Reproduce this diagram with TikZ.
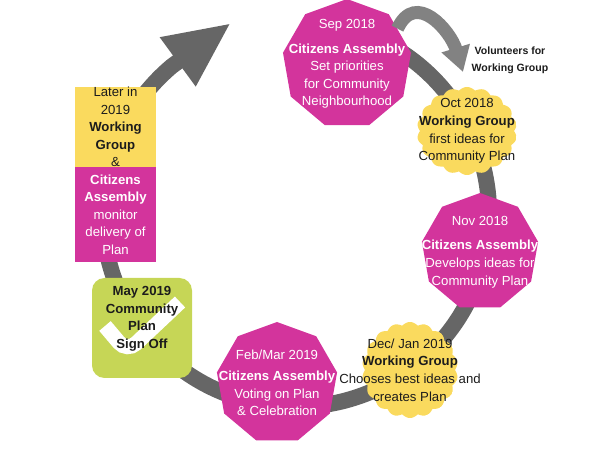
\documentclass[tikz,border=0pt]{standalone}
\usepackage{fontspec}
\setsansfont{Liberation Sans}
\usetikzlibrary{arrows.meta,shapes.geometric}

\definecolor{camagenta}{RGB}{211,52,156}
\definecolor{wgyellow}{RGB}{250,218,94}
\definecolor{signgreen}{RGB}{198,214,86}
\definecolor{ringgrey}{RGB}{102,102,102}
\definecolor{volgrey}{RGB}{130,130,130}
\definecolor{darkink}{RGB}{28,28,28}

\begin{document}
\begin{tikzpicture}[
    assembly/.style={regular polygon,regular polygon sides=9,fill=camagenta,
                     inner sep=0pt,minimum size=#1},
    workgroup/.style 2 args={circle,inner sep=0pt,minimum size={2*#1cm},
                      path picture={\fill[wgyellow,shift={(path picture bounding box.center)}]
                        plot[domain=0:360,samples=325] (\x:{#1-0.06+0.06*abs(sin(9*\x))} and {#2-0.06+0.06*abs(sin(9*\x))});}},
    steptext/.style={align=center,font=\sffamily\fontsize{7.5}{10}\selectfont},
    later/.style={rectangle,inner sep=0pt,minimum width=1.62cm,steptext}
]
\useasboundingbox (0,0) rectangle (12,9);

% the big cycle
\coordinate (ringstart) at (6.92,8.45);
\coordinate (ringtip)   at (4.62,8.54);
\draw[line width=0.32cm,ringgrey,-{Triangle[length=1.32cm,width=1.12cm]}]
    (ringstart) arc[start angle=75,end angle=-230,radius=3.86] -- (ringtip);

\begin{scope}[every label/.style={steptext,text=white}]
    \node[assembly=2.6cm,label={center:{Sep 2018\\[4pt]\textbf{Citizens Assembly}\\Set priorities\\for Community\\Neighbourhood}}] (sep) at (6.94,7.72) {};
    \node[assembly=2.36cm,label={center:{Nov 2018\\[4pt]\textbf{Citizens Assembly}\\Develops ideas for\\Community Plan}}] (nov) at (9.60,3.96) {};
    \node[assembly=2.44cm,label={center:{Feb/Mar 2019\\[2pt]\textbf{Citizens Assembly}\\Voting on Plan\\\& Celebration}}] (feb) at (5.54,1.34) {};
\end{scope}

\begin{scope}[every label/.style={steptext,text=darkink}]
    \node[workgroup={1.0}{0.88},label={center:{Oct 2018\\\textbf{Working Group}\\first ideas for\\Community Plan}}] (oct) at (9.34,6.38) {};
    \node[workgroup={0.96}{0.96},label={center:{Dec/ Jan 2019\\\textbf{Working Group}\\Chooses best ideas and\\creates Plan}}] (dec) at (8.20,1.60) {};
    \node[rectangle,rounded corners=0.25cm,fill=signgreen,minimum size=2cm,
          path picture={\draw[white,line width=0.3cm] ([shift={(-0.74,0.04)}]path picture bounding box.center) -- ++(0.44,-0.52) -- ++(1.06,1.0);},
          label={[yshift=0.18cm,font=\sffamily\bfseries\fontsize{7.5}{10}\selectfont]center:{May 2019\\Community\\Plan\\Sign Off}}] (may) at (2.84,2.44) {};
\end{scope}

\node[later,fill=camagenta,minimum height=1.9cm,text=white] (laterca) at (2.31,4.71) {\textbf{Citizens}\\\textbf{Assembly}\\monitor\\delivery of\\Plan};
\node[later,fill=wgyellow,minimum height=1.6cm,text=darkink] (laterwg) at (2.31,6.46) {Later in\\2019\\\textbf{Working}\\\textbf{Group}\\\&};

% volunteers branch
\node[steptext,font=\sffamily\bfseries\fontsize{6}{9.5}\selectfont,text=darkink] (volunteers) at (10.2,7.8) {Volunteers for\\Working Group};
\coordinate (voltip) at (9.26,7.56);
\draw[line width=0.26cm,volgrey,-{Triangle[length=0.5cm,width=0.56cm]}] (sep.35) to[out=65,in=107,looseness=1.4] (voltip);
\end{tikzpicture}
\end{document}
